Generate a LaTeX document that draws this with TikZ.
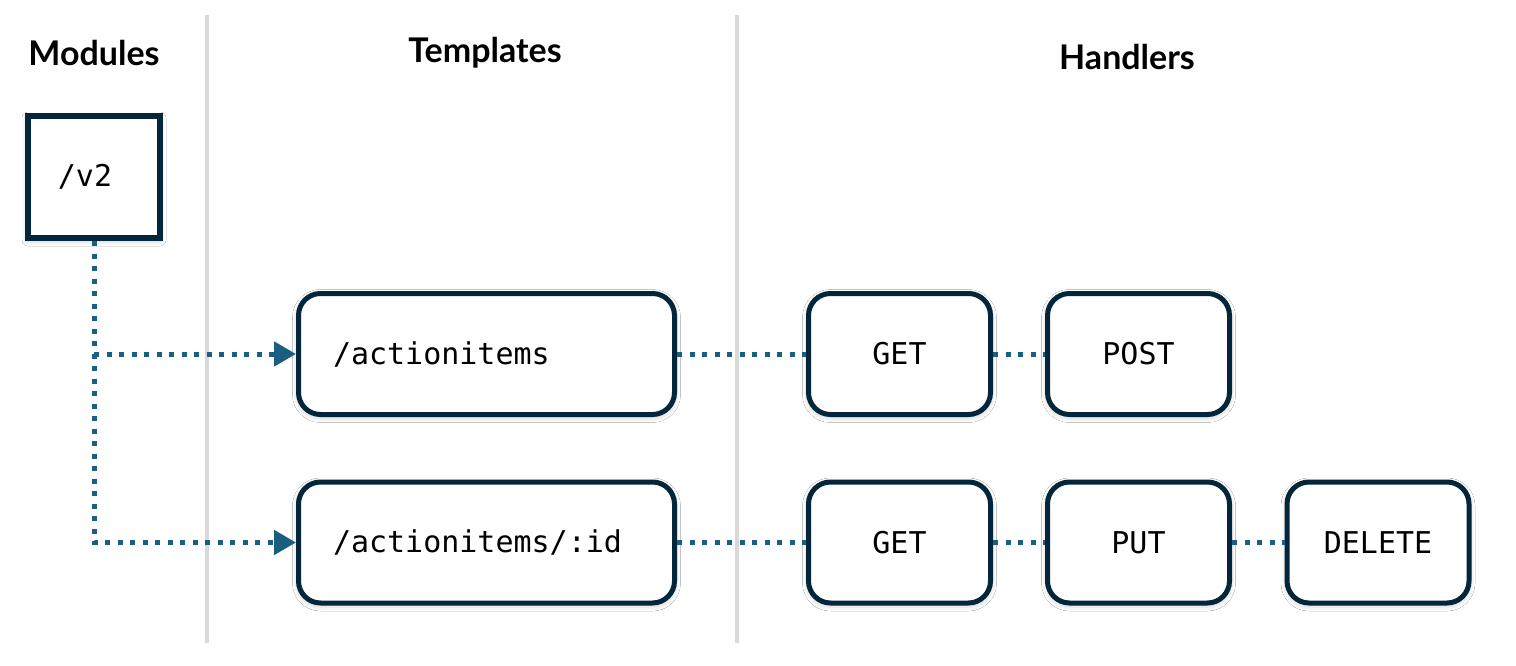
\documentclass[tikz,border=0pt]{standalone}
\usepackage{fontspec}
\setmainfont{Lato}
\newfontfamily\monofont{DejaVu Sans Mono}
\usetikzlibrary{arrows.meta,shadows.blur}
\definecolor{navy}{HTML}{04263A}
\definecolor{linkc}{HTML}{1A5E80}
\definecolor{sepc}{HTML}{D9D9D9}
\begin{document}
\begin{tikzpicture}[x=1pt,y=-1pt,
  shadowed/.style={blur shadow={shadow xshift=0pt, shadow yshift=-2pt, shadow blur radius=6pt, shadow opacity=25, shadow blur steps=8}},
  modbox/.style={draw=navy, line width=6pt, fill=white, minimum width=132pt, minimum height=122pt, inner sep=0pt, shadowed, font=\monofont\fontsize{30}{36}\selectfont},
  tmplbox/.style={draw=navy, line width=5pt, fill=white, rounded corners=22pt, text width=307pt, align=left, inner xsep=34.5pt, inner ysep=0pt, minimum height=121pt, shadowed, font=\monofont\fontsize{30}{36}\selectfont},
  hbox/.style={draw=navy, line width=5pt, fill=white, rounded corners=22pt, minimum width=182pt, minimum height=121pt, inner sep=0pt, shadowed, font=\monofont\fontsize{30}{36}\selectfont},
  header/.style={font=\bfseries\fontsize{34}{40}\selectfont, inner sep=0pt},
  conn/.style={draw=linkc, line width=5pt, dash pattern=on 5pt off 7.5pt},
  sepline/.style={draw=sepc, line width=4pt}]
\useasboundingbox (0,0) rectangle (1516,666);
\fill[white] (0,0) rectangle (1516,666);
% separators
\coordinate (s1t) at (207,15); \coordinate (s1b) at (207,643);
\coordinate (s2t) at (737,15); \coordinate (s2b) at (737,643);
\draw[sepline] (s1t) -- (s1b);
\draw[sepline] (s2t) -- (s2b);
% headers
\node[header] (hmod) at (94,53) {Modules};
\node[header] (htpl) at (485,53) {Templates};
\node[header] (hhnd) at (1127,57) {Handlers};
% boxes
\node[modbox] (v2) at (94,177) {\hspace*{-18pt}/v2};
\node[tmplbox] (t1) at (486.5,354) {/actionitems};
\node[tmplbox] (t2) at (486.5,542.5) {/actionitems/:id};
\node[hbox] (g1) at (899.5,354) {GET};
\node[hbox] (p1) at (1138.5,354) {POST};
\node[hbox] (g2) at (899.5,542.5) {GET};
\node[hbox] (u2) at (1138.5,542.5) {PUT};
\node[hbox] (d2) at (1378,542.5) {DELETE};
% connectors
\draw[conn, -{Triangle[length=22pt,width=24pt]}] (v2.south) |- (t2.west);
\draw[conn, -{Triangle[length=22pt,width=24pt]}] (v2.south |- t1.west) -- (t1.west);
\draw[conn] (t1.east) -- (g1.west);
\draw[conn] (g1.east) -- (p1.west);
\draw[conn] (t2.east) -- (g2.west);
\draw[conn] (g2.east) -- (u2.west);
\draw[conn] (u2.east) -- (d2.west);
\end{tikzpicture}
\end{document}
